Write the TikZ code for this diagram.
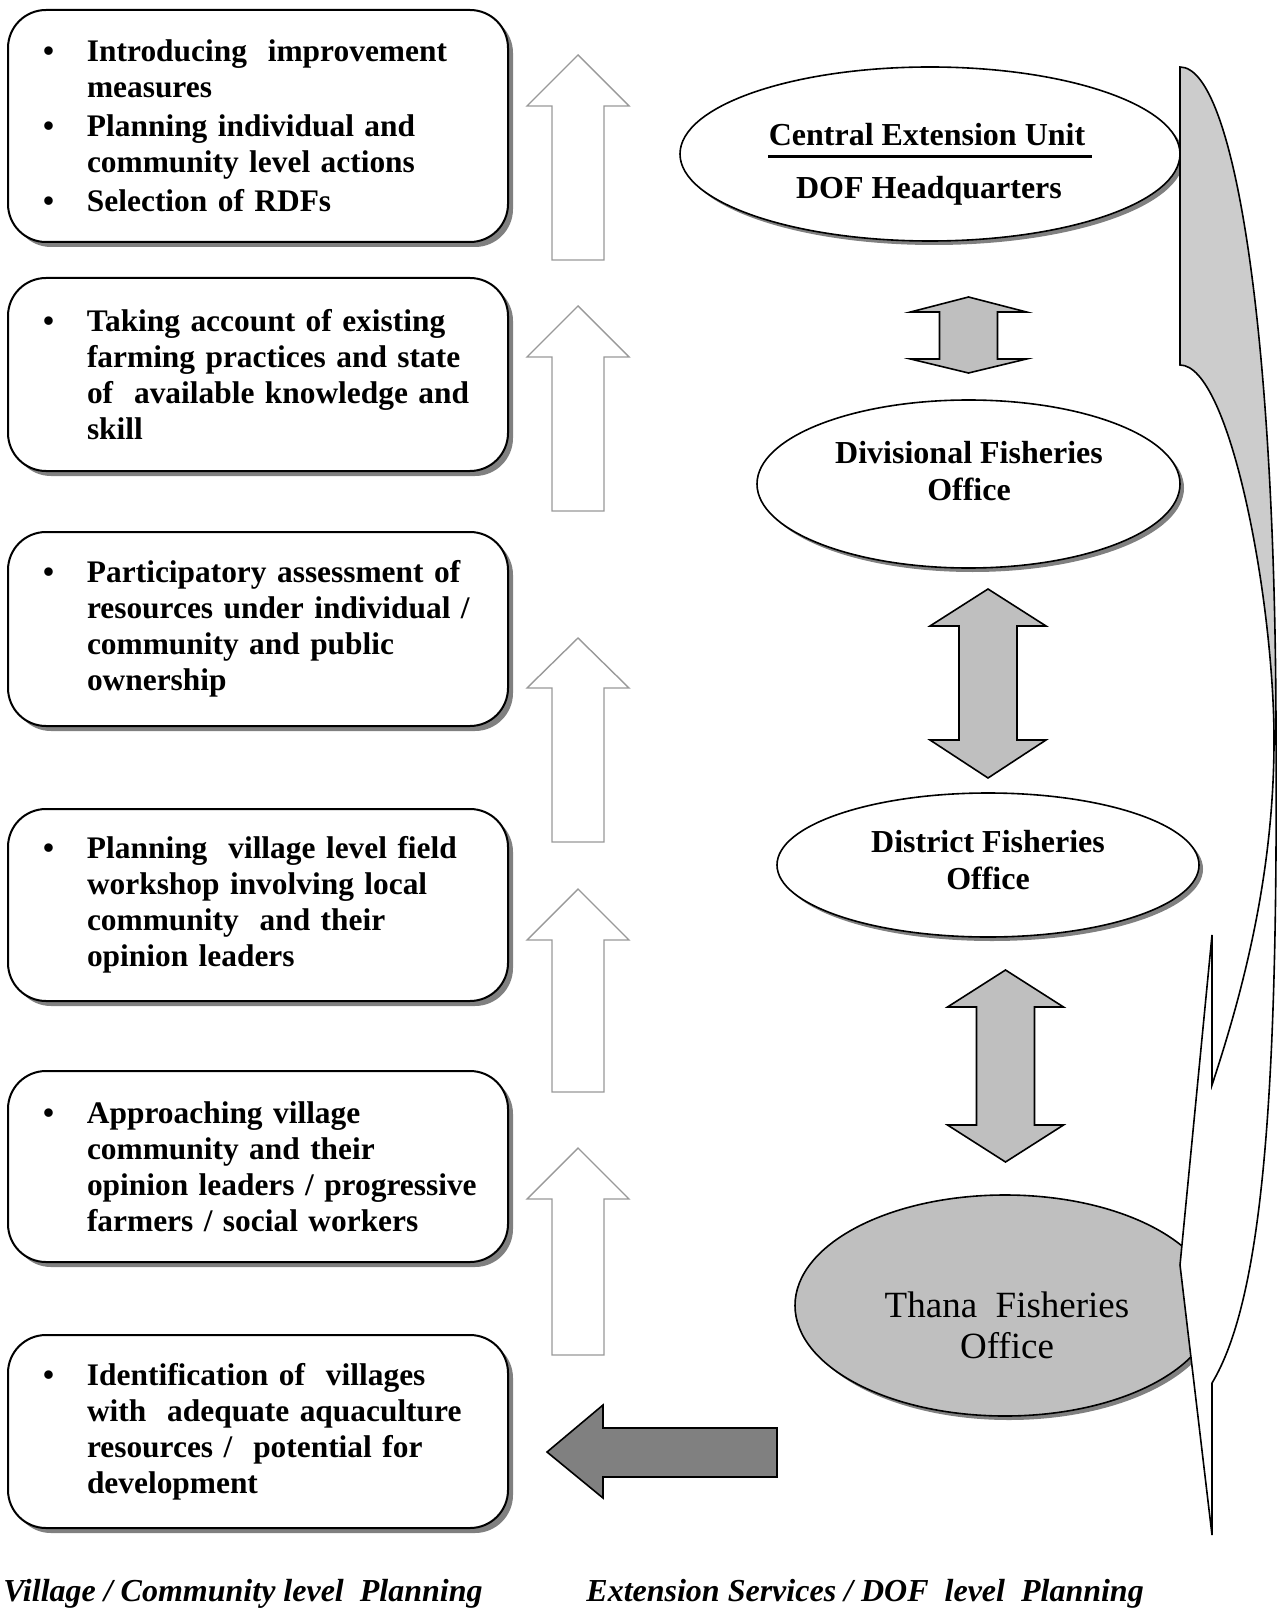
\documentclass[tikz,border=0pt]{standalone}
\usepackage{fontspec}
\setmainfont{Liberation Serif}
\usetikzlibrary{shapes.geometric,shadows}

\newcommand{\bul}{\hspace*{7.5pt}\makebox[22pt][l]{\textbullet}}
\newcommand{\ind}{\hspace*{29.5pt}}

\begin{document}
\begin{tikzpicture}[x=0.5pt,y=-0.5pt,
  stage/.style={draw, line width=1pt, rounded corners=19pt, fill=white,
    inner xsep=10pt, inner ysep=0pt, text width=230pt, align=left,
    font=\bfseries\fontsize{15.7}{18}\selectfont,
    drop shadow={shadow xshift=2.5pt, shadow yshift=-2.5pt, fill=black!50, opacity=1}},
  office/.style={ellipse, draw, line width=0.8pt, fill=white, inner sep=0pt,
    drop shadow={shadow xshift=2pt, shadow yshift=-2pt, fill=black!50, opacity=1}},
  officetext/.style={align=center, inner sep=0pt, font=\bfseries\fontsize{16}{18.5}\selectfont},
  uparrow/.style={draw=black!40, line width=0.7pt, fill=white},
  linkarrow/.style={draw, line width=0.8pt, fill=black!25},
  tag/.style={anchor=base west, inner sep=0pt, font=\bfseries\itshape\fontsize{16}{18.5}\selectfont}]
\useasboundingbox (0,0) rectangle (1282,1609);

% village / community level
\node[stage, minimum height=116pt] (improve) at (258,126) {\bul Introducing~ improvement\\ \ind measures\\[1.5pt] \bul Planning individual and\\ \ind community level actions\\[1.5pt] \bul Selection of RDFs};
\node[stage, minimum height=96.5pt] (practice) at (258,374.5) {\bul Taking account of existing\\ \ind farming practices and state\\ \ind of~ available knowledge and\\ \ind skill};
\node[stage, minimum height=97pt] (assess) at (258,629) {\bul Participatory assessment of\\ \ind resources under individual /\\ \ind community and public\\ \ind ownership};
\node[stage, minimum height=96pt] (workshop) at (258,905) {\bul Planning~ village level field\\ \ind workshop involving local\\ \ind community~ and their\\ \ind opinion leaders};
\node[stage, minimum height=95.5pt] (approach) at (258,1166.5) {\bul Approaching village\\ \ind community and their\\ \ind opinion leaders / progressive\\ \ind farmers / social workers};
\node[stage, minimum height=96.5pt] (identify) at (258,1431.5) {\bul Identification of~ villages\\ \ind with~ adequate aquaculture\\ \ind resources /~ potential for\\ \ind development};

% hollow arrows
\draw[uparrow] (578,55) -- (629,106) -- (604,106) -- (604,260) -- (552,260) -- (552,106) -- (527,106) -- cycle;
\draw[uparrow] (578,306) -- (629,357) -- (604,357) -- (604,511) -- (552,511) -- (552,357) -- (527,357) -- cycle;
\draw[uparrow] (578,638) -- (629,688) -- (604,688) -- (604,842) -- (552,842) -- (552,688) -- (527,688) -- cycle;
\draw[uparrow] (578,889) -- (629,940) -- (604,940) -- (604,1092) -- (552,1092) -- (552,940) -- (527,940) -- cycle;
\draw[uparrow] (578,1148) -- (629,1199) -- (604,1199) -- (604,1355) -- (552,1355) -- (552,1199) -- (527,1199) -- cycle;

% DOF offices
\node[office, minimum width=250pt, minimum height=87pt] (ceu) at (930,154) {};
\node[officetext] (ceut) at (927,135) {Central Extension Unit};
\node[officetext] (hqt) at (929,191) {DOF Headquarters};
\draw[line width=1.5pt] (768,157) -- (1092,157);

\node[office, minimum width=211.5pt, minimum height=84pt] (dfo) at (968.5,484) {};
\node[officetext] (dfot) at (969,471) {Divisional Fisheries\\Office};

\node[office, minimum width=211pt, minimum height=72pt] (dist) at (988,865) {};
\node[officetext] (distt) at (988,860) {District Fisheries\\Office};

\node[office, fill=black!25, minimum width=210pt, minimum height=110.5pt] (tfo) at (1005,1305.5) {};
\node[align=center, inner sep=0pt, font=\fontsize{18.5}{20.5}\selectfont] (tfot) at (1007,1325) {Thana~ Fisheries\\Office};

% links between offices
\draw[linkarrow] (968.5,297) -- (1026.5,312) -- (997.5,312) -- (997.5,359) -- (1026.5,359) -- (968.5,373) -- (910.5,359) -- (939.5,359) -- (939.5,312) -- (910.5,312) -- cycle;
\draw[linkarrow] (988,589) -- (1046,626) -- (1017,626) -- (1017,740) -- (1046,740) -- (988,778) -- (930,740) -- (959,740) -- (959,626) -- (930,626) -- cycle;
\draw[linkarrow] (1005.5,970) -- (1063.5,1007) -- (1034.5,1007) -- (1034.5,1125) -- (1063.5,1125) -- (1005.5,1162) -- (947.5,1125) -- (976.5,1125) -- (976.5,1007) -- (947.5,1007) -- cycle;

% thana office to villages
\draw[line width=0.8pt, fill=black!50] (547,1452) -- (603,1405) -- (603,1428) -- (777,1428) -- (777,1477) -- (603,1477) -- (603,1498) -- cycle;

% curved arrow on the right
\draw[line width=0.8pt, fill=black!20] (1180,365) -- (1180,67) .. controls (1234,67) and (1276,330) .. (1276,740) -- (1274,740) .. controls (1274,600) and (1230,365) .. (1180,365) -- cycle;
\draw[line width=0.8pt, fill=white] (1212,935) -- (1180,1265) -- (1212,1535) -- (1212,1383) .. controls (1262,1300) and (1278,1100) .. (1276,740) -- (1274,740) .. controls (1274,880) and (1240,1000) .. (1212,1085) -- cycle;

% captions
\node[tag] (vtag) at (3,1601) {Village / Community level~ Planning};
\node[tag] (etag) at (586,1601) {Extension Services / DOF~ level~ Planning};
\end{tikzpicture}
\end{document}
